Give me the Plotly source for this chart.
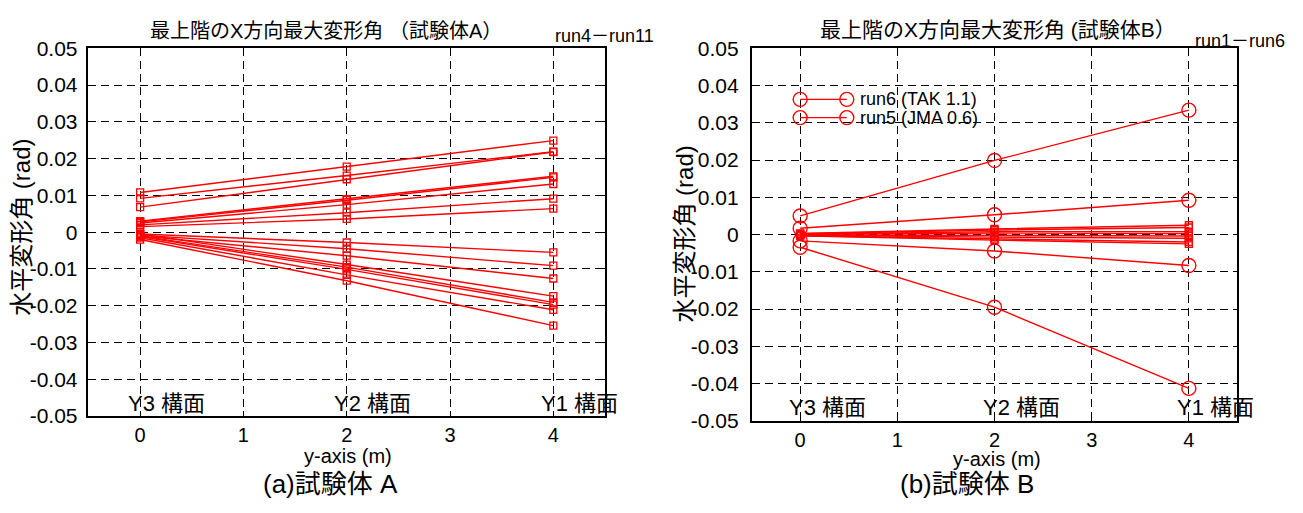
import plotly.graph_objects as go

# positions of the frames along the y-axis (m)
frame_pos = [0, 2, 4]
frame_names = ["Y3 構面", "Y2 構面", "Y1 構面"]

# specimen A, runs 4-11 (max positive / max negative drift per run), values at Y3, Y2, Y1
a_y3 = [0.0108, 0.0092, 0.0068, 0.0030, 0.0028, 0.0025, 0.0020, 0.0015,
        -0.0005, -0.0008, -0.0010, -0.0005, -0.0010, -0.0012, -0.0015, -0.0020]
a_y2 = [0.0178, 0.0154, 0.0144, 0.0090, 0.0087, 0.0075, 0.0053, 0.0036,
        -0.0028, -0.0045, -0.0064, -0.0088, -0.0095, -0.0101, -0.0116, -0.0132]
a_y1 = [0.0249, 0.0219, 0.0218, 0.0152, 0.0149, 0.0131, 0.0091, 0.0064,
        -0.0055, -0.0091, -0.0126, -0.0174, -0.0191, -0.0197, -0.0211, -0.0254]

# specimen B, runs 1-4 (squares)
b_sq_y3 = [0.0003, 0.0002, 0.0001, 0.0001, -0.0001, -0.0002, -0.0003, -0.0003]
b_sq_y2 = [0.0015, 0.0012, 0.0008, 0.0004, -0.0003, -0.0007, -0.0011, -0.0015]
b_sq_y1 = [0.0025, 0.0019, 0.0008, 0.0003, -0.0004, -0.0010, -0.0020, -0.0025]

# specimen B, runs 5-6 (circles)
b_ci_y3 = [0.0050, 0.0017, -0.0017, -0.0034]
b_ci_y2 = [0.0199, 0.0053, -0.0044, -0.0195]
b_ci_y1 = [0.0334, 0.0092, -0.0083, -0.0413]

legend_labels = ["run6 (TAK 1.1)", "run5 (JMA 0.6)"]
legend_levels = [0.0363, 0.0314]

y_tickvals = [0.05, 0.04, 0.03, 0.02, 0.01, 0, -0.01, -0.02, -0.03, -0.04, -0.05]
y_ticktext = ["0.05", "0.04", "0.03", "0.02", "0.01", "0",
              "-0.01", "-0.02", "-0.03", "-0.04", "-0.05"]
x_tickvals = [0, 1, 2, 3, 4]

RED = "#ff0000"
FONT = "Liberation Sans, Arial, Noto Sans CJK JP"

fig = go.Figure()

for v3, v2, v1 in zip(a_y3, a_y2, a_y1):
    fig.add_trace(go.Scatter(
        x=frame_pos, y=[v3, v2, v1], mode="lines+markers",
        line=dict(color=RED, width=1.4),
        marker=dict(symbol="square-open", size=7, color=RED, line=dict(width=1.3)),
        xaxis="x", yaxis="y", showlegend=False, hoverinfo="skip"))

for v3, v2, v1 in zip(b_sq_y3, b_sq_y2, b_sq_y1):
    fig.add_trace(go.Scatter(
        x=frame_pos, y=[v3, v2, v1], mode="lines+markers",
        line=dict(color=RED, width=1.4),
        marker=dict(symbol="square-open", size=7, color=RED, line=dict(width=1.3)),
        xaxis="x2", yaxis="y2", showlegend=False, hoverinfo="skip"))

for v3, v2, v1 in zip(b_ci_y3, b_ci_y2, b_ci_y1):
    fig.add_trace(go.Scatter(
        x=frame_pos, y=[v3, v2, v1], mode="lines+markers",
        line=dict(color=RED, width=1.4),
        marker=dict(symbol="circle-open", size=14, color=RED, line=dict(width=1.4)),
        xaxis="x2", yaxis="y2", showlegend=False, hoverinfo="skip"))

axis_common = dict(
    showline=True, linecolor="black", linewidth=1.5, mirror="ticks",
    ticks="inside", ticklen=5, tickcolor="black",
    showgrid=True, gridcolor="black", gridwidth=1, griddash="8px,5px",
    zeroline=False, tickfont=dict(family=FONT, size=21, color="black"),
)
x_font = dict(family=FONT, size=20, color="black")

fig.update_layout(
    width=1303, height=513,
    margin=dict(l=0, r=0, t=0, b=0),
    paper_bgcolor="white", plot_bgcolor="white",
    xaxis=dict(domain=[0.0679, 0.4643], range=[-0.5, 4.5], tickvals=x_tickvals,
               anchor="y", **{**axis_common, "tickfont": x_font}),
    yaxis=dict(domain=[0.1754, 0.9259], range=[-0.05, 0.05], tickvals=y_tickvals,
               ticktext=y_ticktext, anchor="x", ticklabelstandoff=5, **axis_common),
    xaxis2=dict(domain=[0.5768, 0.9497], range=[-0.5, 4.5], tickvals=x_tickvals,
                anchor="y2", **{**axis_common, "tickfont": x_font}),
    yaxis2=dict(domain=[0.1657, 0.9259], range=[-0.05, 0.05], tickvals=y_tickvals,
                ticktext=y_ticktext, anchor="x2", ticklabelstandoff=7, **axis_common),
)

ann = []
# frame names inside each panel
for xr, yr in (("x", "y"), ("x2", "y2")):
    for p, name in zip(frame_pos, frame_names):
        ann.append(dict(x=p - 0.14, y=-0.0465, xref=xr, yref=yr, text=name,
                        showarrow=False, xanchor="left", yanchor="middle",
                        font=dict(family=FONT, size=22, color="black")))

# titles, axis labels and captions (pixel positions converted to paper fractions)
labels = [
    (326, 20, "最上階のX方向最大変形角 （試験体A）", 20, 0),
    (604, 25, "run4－run11", 18, 0),
    (998, 18, "最上階のX方向最大変形角 (試験体B）", 21, 0),
    (1240, 30, "run1－run6", 18, 0),
    (348, 465, "y-axis (m)", 20, 0),
    (997, 468, "y-axis (m)", 20, 0),
    (330, 494, "(a)試験体 A", 26, 0),
    (967, 494, "(b)試験体 B", 26, 0),
    (22, 226, "水平変形角 (rad)", 24, -90),
    (685, 233, "水平変形角 (rad)", 24, -90),
]
for px, py, txt, fs, ang in labels:
    ann.append(dict(x=px / 1303, y=1 - py / 513, xref="paper", yref="paper", text=txt,
                    textangle=ang, showarrow=False, xanchor="center", yanchor="middle",
                    font=dict(family=FONT, size=fs, color="black")))

# legend of specimen B
for lab, lev in zip(legend_labels, legend_levels):
    ann.append(dict(x=0.6, y=lev, xref="x2", yref="y2", text=lab, showarrow=False,
                    xanchor="left", yanchor="middle",
                    font=dict(family=FONT, size=18, color="black")))

shapes = []
for lev in legend_levels:
    shapes.append(dict(type="line", xref="x2", yref="y2", x0=0, x1=0.48, y0=lev, y1=lev,
                       line=dict(color=RED, width=1.4)))
    for cx in (0, 0.48):
        shapes.append(dict(type="circle", xref="x2", yref="y2",
                           xsizemode="pixel", ysizemode="pixel",
                           xanchor=cx, yanchor=lev, x0=-7, x1=7, y0=-7, y1=7,
                           line=dict(color=RED, width=1.4)))

fig.update_layout(annotations=ann, shapes=shapes)

fig.write_html("out.html")
